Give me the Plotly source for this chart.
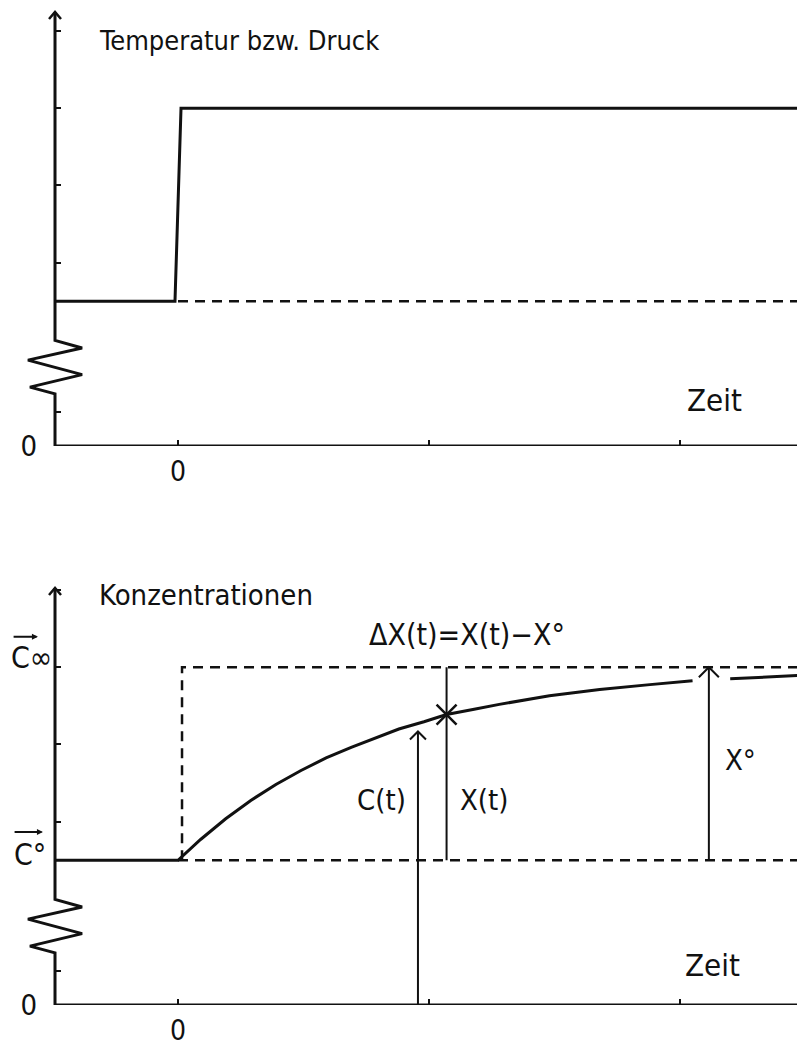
import plotly.graph_objects as go

# ---- data -------------------------------------------------------------
# time axis (tick units), 0 = moment of the step change
time_ticks = [0, 1, 2]
time_tick_text = ["0", "", ""]
t_left, t_right = -0.49, 2.47

# levels (arbitrary units above the broken axis origin)
level_low = 3.0     # T0 / p0 and C°
level_high = 7.0    # T1 / p1 and C∞
y_minor_ticks = [0.7, 3.8, 5.4, 7.0, 8.6]

# temperature / pressure step
temp_t = [-0.49, -0.012, 0.012, 2.47]
temp_v = [3.0, 3.0, 7.0, 7.0]

# ideal concentration step (dashed)
ideal_t = [0.016, 0.016, 2.47]
ideal_v = [3.0, 7.0, 7.0]

# measured concentration C(t) (gap where the X° arrow meets the curve)
conc_t = [-0.49, 0.0, 0.09, 0.19, 0.29, 0.39, 0.49, 0.59, 0.69, 0.79, 0.88,
          0.98, 1.07, 1.18, 1.28, 1.48, 1.68, 1.88, 2.05, None, 2.2, 2.47]
conc_v = [3.0, 3.0, 3.43, 3.86, 4.24, 4.57, 4.86, 5.12, 5.34, 5.54, 5.72,
          5.87, 6.02, 6.13, 6.23, 6.41, 6.54, 6.64, 6.72, None, 6.76, 6.83]

# marked instants
t_ct = 0.956        # C(t) arrow
c_ct = 5.72
t_xt = 1.07         # X(t) point on the curve
c_xt = 6.02
t_x0 = 2.115        # X° arrow

# axis break (zigzag): offsets from the axis in time units, and heights
zig_dt = [0.0, -0.10, 0.108, -0.108, 0.108, 0.0]
zig_v = [1.08, 1.22, 1.48, 1.78, 2.03, 2.19]

# ---- layout constants -------------------------------------------------
W, H = 797, 1048
PX_T = 251.0        # pixels per time unit
PX_V = 48.25        # pixels per level unit
x_axis_px = 55
top_axis_bottom_px, top_axis_top_px = 446, 10
bot_axis_bottom_px, bot_axis_top_px = 1005, 586

FONT = "DejaVu Sans Condensed, Liberation Sans Narrow, sans-serif"
BLACK = "#111111"

top_range = (top_axis_bottom_px - top_axis_top_px) / PX_V
bot_range = (bot_axis_bottom_px - bot_axis_top_px) / PX_V

fig = go.Figure()


def line(xs, ys, xa, ya, width=3.0, dash=None):
    fig.add_trace(go.Scatter(
        x=xs, y=ys, xaxis=xa, yaxis=ya, mode="lines",
        line=dict(color=BLACK, width=width, dash=dash),
        hoverinfo="skip", showlegend=False, connectgaps=False))


def chevron(t, v, xa, ya, half_w_px, drop_px, width=2.0):
    dx = half_w_px / PX_T
    dv = drop_px / PX_V
    line([t - dx, t, t + dx], [v - dv, v, v - dv], xa, ya, width=width)


def y_axis_path(xa, ya, top):
    xs = [t_left, t_left] + [t_left + d for d in zig_dt] + [t_left]
    ys = [0, zig_v[0]] + zig_v + [top]
    line(xs, ys, xa, ya, width=3.0)
    chevron(t_left, top, xa, ya, 6, 7, width=2.5)
    line([t_left, t_right], [0, 0], xa, ya, width=3.0)


DASH = "10px,7px"

# ---- top panel: temperature / pressure ---------------------------------
y_axis_path("x", "y", top_range - 2 / PX_V)
line([0, t_right], [level_low, level_low], "x", "y", width=2.5, dash=DASH)
line(temp_t, temp_v, "x", "y", width=3.0)

# ---- bottom panel: concentrations -------------------------------------
y_axis_path("x2", "y2", bot_range - 2 / PX_V)
line([0, t_right], [level_low, level_low], "x2", "y2", width=2.5, dash=DASH)
line(ideal_t, ideal_v, "x2", "y2", width=2.5, dash=DASH)
line(conc_t, conc_v, "x2", "y2", width=3.0)

# C(t) arrow from the time axis up to the curve
line([t_ct, t_ct], [0, c_ct - 0.05], "x2", "y2", width=2.0)
chevron(t_ct, c_ct - 0.05, "x2", "y2", 8, 8)
# X(t): vertical from C° to C∞ with a cross on the curve
line([t_xt, t_xt], [level_low, level_high], "x2", "y2", width=2.0)
fig.add_trace(go.Scatter(
    x=[t_xt], y=[c_xt], xaxis="x2", yaxis="y2", mode="markers",
    marker=dict(symbol="x-thin", size=20, line=dict(color=BLACK, width=2.5)),
    hoverinfo="skip", showlegend=False))
# X° arrow from C° up to C∞
line([t_x0, t_x0], [level_low, level_high], "x2", "y2", width=2.0)
chevron(t_x0, level_high, "x2", "y2", 10, 10)

# ---- axes -------------------------------------------------------------
x_common = dict(
    domain=[0, 1], range=[-178 / PX_T, (W - 178) / PX_T],
    showgrid=False, zeroline=False, showline=False, automargin=False,
    tickmode="array", tickvals=time_ticks, ticktext=time_tick_text,
    ticks="inside", ticklen=6, tickwidth=2, tickcolor=BLACK,
    ticklabelstandoff=6,
    tickfont=dict(family=FONT, size=28, color=BLACK), fixedrange=True)

y_common = dict(
    anchor="free", position=x_axis_px / W,
    showgrid=False, zeroline=False, showline=False, automargin=False,
    tickmode="array", tickvals=[0] + y_minor_ticks,
    ticktext=["0"] + [""] * len(y_minor_ticks),
    ticks="inside", ticklen=5, tickwidth=2, tickcolor=BLACK,
    ticklabelstandoff=18,
    tickfont=dict(family=FONT, size=29, color=BLACK), fixedrange=True)

fig.update_layout(
    width=W, height=H,
    margin=dict(l=0, r=0, t=0, b=0, autoexpand=False),
    paper_bgcolor="white", plot_bgcolor="white",
    showlegend=False,
    xaxis=dict(x_common, anchor="y"),
    xaxis2=dict(x_common, anchor="y2"),
    yaxis=dict(y_common,
               domain=[1 - top_axis_bottom_px / H, 1 - top_axis_top_px / H],
               range=[0, top_range]),
    yaxis2=dict(y_common,
                domain=[1 - bot_axis_bottom_px / H, 1 - bot_axis_top_px / H],
                range=[0, bot_range]),
)

# ---- labels -----------------------------------------------------------
def label(text, t, v, xa, ya, size=29, anchor="left"):
    fig.add_annotation(text=text, x=t, y=v, xref=xa, yref=ya,
                       xanchor=anchor, yanchor="middle", showarrow=False,
                       font=dict(family=FONT, size=size, color=BLACK))


label("Temperatur bzw. Druck", -0.323, 8.41, "x", "y", size=27)
label("Zeit", 2.02, 0.95, "x", "y", size=31)

label("Konzentrationen", -0.323, 8.50, "x2", "y2")
label("\u0394X(t)=X(t)\u2212X°", 0.753, 7.67, "x2", "y2", size=30)
label("C(t)", 0.705, 4.25, "x2", "y2")
label("X(t)", 1.116, 4.25, "x2", "y2")
label("X°", 2.171, 5.08, "x2", "y2")
label("Zeit", 2.012, 0.83, "x2", "y2", size=31)
label("C∞", -0.672, 7.21, "x2", "y2", size=30)
label("C°", -0.66, 3.11, "x2", "y2", size=30)

# vector bars over C∞ and C°
for (t0, t1, v) in [(-0.661, -0.558, 7.63), (-0.657, -0.538, 3.585)]:
    fig.add_annotation(x=t1, y=v, ax=t0, ay=v, xref="x2", yref="y2",
                       axref="x2", ayref="y2", text="", showarrow=True,
                       arrowhead=2, arrowsize=0.6, arrowwidth=2,
                       arrowcolor=BLACK)

fig.write_html("out.html")
